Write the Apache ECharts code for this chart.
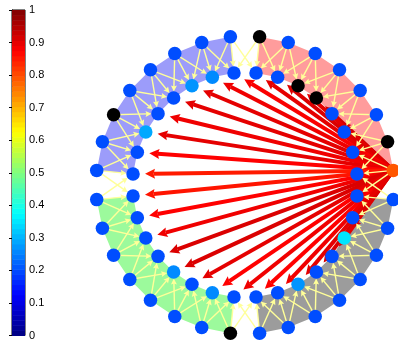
<!DOCTYPE html>
<html>
<head>
<meta charset="utf-8">
<script src="https://cdn.jsdelivr.net/npm/echarts@6/dist/echarts.min.js"></script>
<style>
  html, body { margin: 0; padding: 0; background: #ffffff; }
  #c { width: 398px; height: 341px; }
</style>
</head>
<body>
<div id="c"></div>
<script>
// Ring slots, counter-clockwise starting just above the right-hand side.
const slots = ['S1', 'S2', 'S3', 'S4', 'S5', 'S6', 'S7', 'S8',
               'S9', 'S10', 'S11', 'S12', 'S13', 'S14', 'S15', 'S16',
               'S17', 'S18', 'S19', 'S20', 'S21', 'S22', 'S23', 'S24',
               'S25', 'S26', 'S27', 'S28', 'S29', 'S30', 'S31', 'S32'];

// Node levels on the colour scale (null = inactive node, drawn black).
const outerLevel = [0.79, null, 0.2, 0.2, 0.2, 0.2, 0.2, null,
                    0.2, 0.2, 0.2, 0.2, 0.2, null, 0.2, 0.2,
                    0.2, 0.2, 0.2, 0.2, 0.2, 0.2, 0.2, null,
                    0.2, 0.2, 0.2, 0.2, 0.2, 0.2, 0.2, 0.2];
const innerLevel = [0.2, 0.2, 0.2, 0.2, null, null, 0.2, 0.2,
                    0.2, 0.26, 0.27, 0.2, 0.2, 0.29, 0.2, 0.2,
                    0.2, 0.2, 0.2, 0.2, 0.26, 0.2, 0.26, 0.2,
                    0.2, 0.2, 0.27, 0.2, 0.2, 0.35, 0.2, 0.2];

// Four modules, each a run of consecutive slots.
const groupFirst = [0, 8, 16, 24];
const groupLast = [7, 15, 23, 31];

// Hub node and the weights of its links to the inner ring.
const hubSlot = 0;
const hubTargets = [0, 1, 2, 3, 4, 5, 6, 7, 8, 9, 10, 11, 12, 13, 14, 15,
                    16, 17, 18, 19, 20, 21, 22, 23, 24, 25, 26, 27, 28, 29, 30, 31];
const hubWeights = [0.9, 0.9, 0.92, 0.9, 0.92, 0.9, 0.91, 0.9,
                    0.88, 0.89, 0.9, 0.9, 0.89, 0.9, 0.875, 0.85,
                    0.855, 0.875, 0.89, 0.91, 0.91, 0.9, 0.875, 0.89,
                    0.875, 0.89, 0.9, 0.91, 0.9, 0.91, 0.9, 0.9];

// Each outer node feeds the inner nodes at these slot offsets.
const neighbourOffsets = [-1, 0, 1];

const colorbarTicks = ['0', '0.1', '0.2', '0.3', '0.4', '0.5', '0.6', '0.7', '0.8', '0.9', '1'];

// ---- layout & style constants ----
const OUTER_R = 149;
const INNER_R = 112.5;
const NODE_SIZE = 13.5;
const MODULE_FILL = ['#ff9c9c', '#9c9cfa', '#9cfa9c', '#9c9c9c'];
const LINK_COLOR = '#ffff99';

function jet(v) {
  const c = x => Math.round(255 * Math.max(0, Math.min(1, x)));
  const r = c(1.5 - Math.abs(4 * v - 3));
  const g = c(1.5 - Math.abs(4 * v - 2));
  const b = c(1.5 - Math.abs(4 * v - 1));
  return 'rgb(' + r + ',' + g + ',' + b + ')';
}
function nodeColor(v) { return v === null ? '#000000' : jet(v); }

// nodes
const nodeData = [];
slots.forEach((s, k) => {
  nodeData.push({ value: [OUTER_R, k], itemStyle: { color: nodeColor(outerLevel[k]) } });
  nodeData.push({ value: [INNER_R, k], itemStyle: { color: nodeColor(innerLevel[k]) } });
});

// module bands
const moduleData = groupFirst.map((f, i) => [f, groupLast[i], i]);

// outer -> inner links
const n = slots.length;
const linkData = [];
slots.forEach((s, k) => {
  neighbourOffsets.forEach(o => linkData.push([k, (k + o + n) % n]));
});

// hub links
const hubData = hubTargets.map((t, i) => [hubSlot, t, hubWeights[i]]);

// colour bar bands (64-step jet)
const bandData = [];
for (let i = 0; i < 64; i++) bandData.push([i / 64, (i + 1) / 64]);

function arrow(api, from, to, st) {
  const s = api.coord(from), t = api.coord(to);
  const dx = t[0] - s[0], dy = t[1] - s[1];
  const len = Math.hypot(dx, dy) || 1;
  const ux = dx / len, uy = dy / len, px = -uy, py = ux;
  const tip = [t[0] - ux * st.gap, t[1] - uy * st.gap];
  const base = [tip[0] - ux * st.head, tip[1] - uy * st.head];
  return {
    type: 'group',
    children: [
      { type: 'line',
        shape: { x1: s[0], y1: s[1], x2: base[0] + ux * 1.5, y2: base[1] + uy * 1.5 },
        style: { stroke: st.color, lineWidth: st.width } },
      { type: 'polygon',
        shape: { points: [tip,
          [base[0] + px * st.half, base[1] + py * st.half],
          [base[0] + ux * st.notch, base[1] + uy * st.notch],
          [base[0] - px * st.half, base[1] - py * st.half]] },
        style: { fill: st.color } }
    ]
  };
}

const chart = echarts.init(document.getElementById('c'), null, { renderer: 'canvas' });
chart.setOption({
  animation: false,
  backgroundColor: '#ffffff',
  polar: { center: [245, 185], radius: 150 },
  angleAxis: { type: 'category', data: slots, startAngle: 0, clockwise: false, show: false },
  radiusAxis: { type: 'value', min: 0, max: 150, show: false },
  grid: { left: 12, top: 10, width: 13, height: 328, show: true,
          borderColor: '#000000', borderWidth: 1, backgroundColor: 'transparent' },
  xAxis: { type: 'value', min: 0, max: 1, show: false },
  yAxis: {
    type: 'value', min: 0, max: 1, interval: 0.1, position: 'right',
    axisLine: { show: true, lineStyle: { color: '#000000', width: 1 } },
    axisTick: { show: true, inside: true, length: 3, lineStyle: { color: '#000000' } },
    splitLine: { show: false },
    axisLabel: { color: '#000000', fontSize: 11, margin: 4, fontFamily: 'Liberation Sans, Arial, sans-serif',
                 formatter: (v, i) => colorbarTicks[i] }
  },
  series: [
    {
      type: 'custom', name: 'colorbar', coordinateSystem: 'cartesian2d', z: 1, silent: true,
      data: bandData,
      renderItem: (params, api) => {
        const p1 = api.coord([0, api.value(1)]);
        const p2 = api.coord([1, api.value(0)]);
        return { type: 'rect',
          shape: { x: p1[0], y: p1[1], width: p2[0] - p1[0], height: p2[1] - p1[1] + 0.5 },
          style: { fill: jet((api.value(0) + api.value(1)) / 2) } };
      }
    },
    {
      type: 'custom', name: 'modules', coordinateSystem: 'polar', z: 1, silent: true,
      data: moduleData,
      renderItem: (params, api) => {
        const a = api.value(0), b = api.value(1), g = api.value(2);
        const pts = [];
        for (let k = a; k <= b; k++) pts.push(api.coord([OUTER_R, k]));
        for (let k = b; k >= a; k--) pts.push(api.coord([INNER_R, k]));
        return { type: 'polygon', shape: { points: pts }, style: { fill: MODULE_FILL[g] } };
      }
    },
    {
      type: 'custom', name: 'hub links', coordinateSystem: 'polar', z: 2, silent: true,
      data: hubData,
      renderItem: (params, api) => arrow(api,
        [OUTER_R, api.value(0)], [INNER_R, api.value(1)],
        { color: jet(api.value(2)), width: 4, gap: 12, head: 10, half: 5, notch: 1.5 })
    },
    {
      type: 'custom', name: 'links', coordinateSystem: 'polar', z: 3, silent: true,
      data: linkData,
      renderItem: (params, api) => arrow(api,
        [OUTER_R, api.value(0)], [INNER_R, api.value(1)],
        { color: LINK_COLOR, width: 1.4, gap: 6.5, head: 6, half: 3, notch: 1 })
    },
    {
      type: 'scatter', name: 'nodes', coordinateSystem: 'polar', z: 4, silent: true,
      symbol: 'circle', symbolSize: NODE_SIZE,
      itemStyle: { opacity: 1 },
      data: nodeData
    }
  ]
});
</script>
</body>
</html>
